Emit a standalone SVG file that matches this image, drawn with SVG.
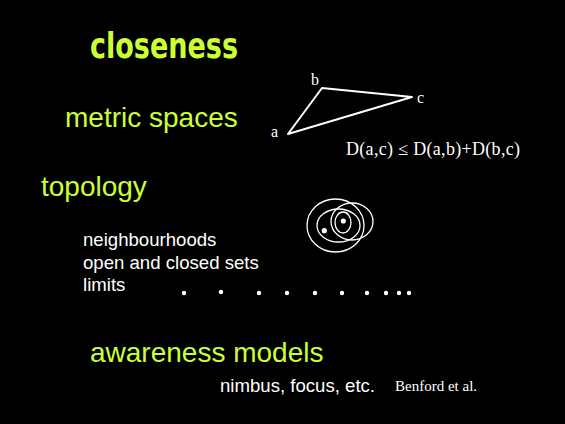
<svg xmlns="http://www.w3.org/2000/svg" width="565" height="424" viewBox="0 0 565 424">
  <style>
    .head { font-family: "Liberation Sans", Arial, sans-serif; font-size: 28px; fill: #ccff33; }
    .body { font-family: "Liberation Sans", Arial, sans-serif; font-size: 18.6px; fill: #ffffff; }
    .serif { font-family: "Liberation Serif", "Times New Roman", serif; fill: #ffffff; }
    .line { fill: none; stroke: #ffffff; stroke-width: 2; stroke-linejoin: round; }
    .ring { fill: none; stroke: #ffffff; stroke-width: 1.3; }
    .dot { fill: #ffffff; }
  </style>
  <rect x="0" y="0" width="565" height="424" fill="#000000"/>

  <g id="title">
    <text x="90" y="58" font-family="'DejaVu Sans', sans-serif" font-weight="bold" font-size="36" fill="#ccff33" textLength="148" lengthAdjust="spacingAndGlyphs">closeness</text>
  </g>

  <g id="metric-spaces">
    <text class="head" x="65" y="127">metric spaces</text>
  </g>

  <g id="triangle">
    <polygon class="line" points="288,134 322,88 412,97"/>
    <text class="serif" x="271" y="137" font-size="16">a</text>
    <text class="serif" x="311" y="85" font-size="16">b</text>
    <text class="serif" x="417" y="103" font-size="16">c</text>
    <text class="serif" x="346" y="155" font-size="18" textLength="174" lengthAdjust="spacing">D(a,c) ≤ D(a,b)+D(b,c)</text>
  </g>

  <g id="topology">
    <text class="head" x="41" y="196">topology</text>
  </g>

  <g id="neighbourhood-figure">
    <ellipse class="ring" cx="335.5" cy="225.5" rx="28.5" ry="26.5"/>
    <ellipse class="ring" cx="338.5" cy="225.5" rx="21.5" ry="16.5"/>
    <ellipse class="ring" cx="352" cy="221.5" rx="21" ry="18.5"/>
    <ellipse class="ring" cx="343" cy="222.5" rx="8" ry="10.5"/>
    <circle class="dot" cx="343.3" cy="221" r="2.6"/>
    <circle class="dot" cx="324.3" cy="230.7" r="2.6"/>
  </g>

  <g id="topology-list">
    <text class="body" x="83" y="246">neighbourhoods</text>
    <text class="body" x="83" y="268.5">open and closed sets</text>
    <text class="body" x="83" y="291">limits</text>
  </g>

  <g id="limit-dots">
    <circle class="dot" cx="184" cy="293" r="2.2"/>
    <circle class="dot" cx="221" cy="292" r="2.2"/>
    <circle class="dot" cx="259" cy="293" r="2.2"/>
    <circle class="dot" cx="287" cy="293" r="2.2"/>
    <circle class="dot" cx="315" cy="293" r="2.2"/>
    <circle class="dot" cx="342" cy="293" r="2.2"/>
    <circle class="dot" cx="367" cy="293" r="2.2"/>
    <circle class="dot" cx="386" cy="293" r="2.2"/>
    <circle class="dot" cx="399" cy="293" r="2.2"/>
    <circle class="dot" cx="409" cy="293" r="2.2"/>
  </g>

  <g id="awareness-models">
    <text class="head" x="90" y="362">awareness models</text>
    <text class="body" x="220" y="392">nimbus, focus, etc.</text>
    <text class="serif" x="395" y="391" font-size="15">Benford et al.</text>
  </g>
</svg>
